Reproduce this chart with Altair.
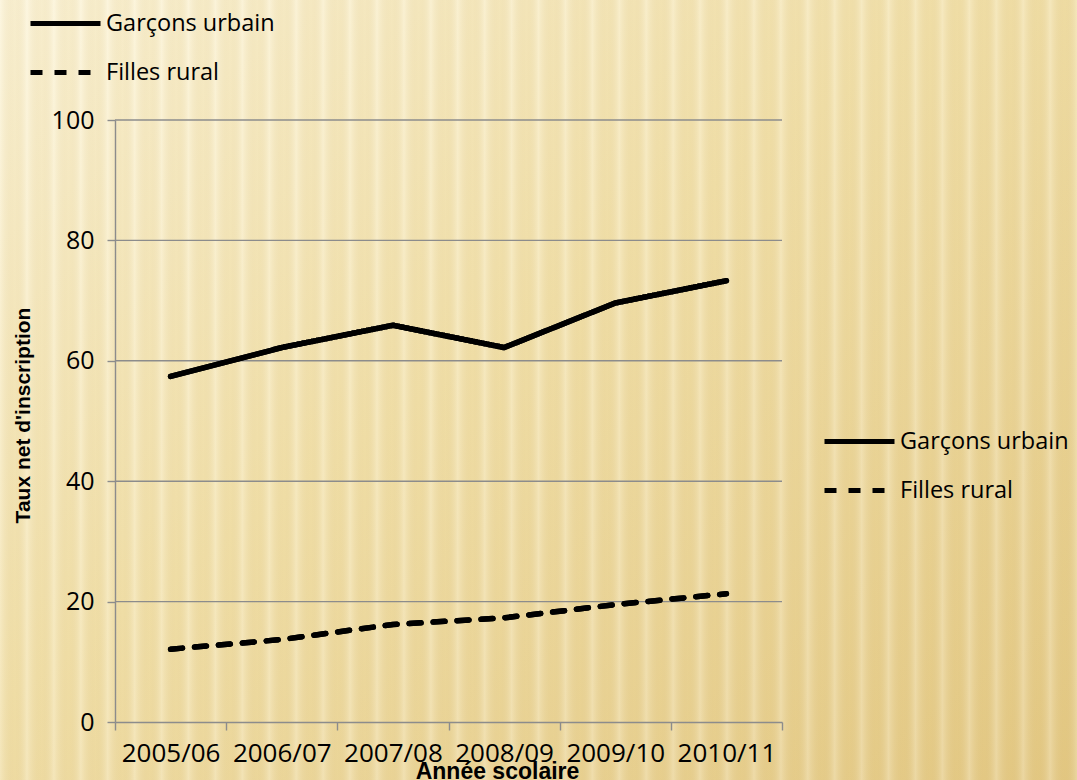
import altair as alt
import pandas as pd

# ---- data ----
years = ["2005/06", "2006/07", "2007/08", "2008/09", "2009/10", "2010/11"]
garcons_urbain = [57.4, 62.2, 65.9, 62.2, 69.6, 73.3]
filles_rural = [12.1, 13.7, 16.2, 17.3, 19.5, 21.3]
series_names = ["Garçons urbain", "Filles rural"]
y_ticks = [0, 20, 40, 60, 80, 100]

rows = []
for name, vals in zip(series_names, [garcons_urbain, filles_rural]):
    for yr, v in zip(years, vals):
        rows.append({"annee": yr, "taux": v, "serie": name})
df = pd.DataFrame(rows)
grid_df = pd.DataFrame({"taux": y_ticks[1:]})

# ---- layout ----
W, H = 667, 602
PL, PT, PR, PB = 115, 120, 295, 58
FONT = "Open Sans"
TFONT = "Liberation Sans"
GRAY = "#8C8C8C"

# ---- background (decoration) ----
base_stops = [
    alt.GradientStop(color="#FCF4D8", offset=0),
    alt.GradientStop(color="#F3E2AC", offset=0.45),
    alt.GradientStop(color="#E5CA85", offset=1),
]
bg = alt.Chart(alt.Data(values=[{}])).mark_rect(
    fill=alt.Gradient(gradient="linear", stops=base_stops, x1=0, y1=0, x2=1, y2=1)
).encode(x=alt.value(-PL), x2=alt.value(W + PR), y=alt.value(-PT), y2=alt.value(H + PB))

n_stripes = 40
stripe_stops = []
for i in range(n_stripes):
    stripe_stops.append(alt.GradientStop(color="rgba(255,255,255,0.22)", offset=i / n_stripes))
    stripe_stops.append(alt.GradientStop(color="rgba(170,130,40,0.05)", offset=(i + 0.55) / n_stripes))
stripe_stops.append(alt.GradientStop(color="rgba(255,255,255,0.22)", offset=1))
stripes = alt.Chart(alt.Data(values=[{}])).mark_rect(
    fill=alt.Gradient(gradient="linear", stops=stripe_stops, x1=0, y1=0, x2=1, y2=0)
).encode(x=alt.value(-PL), x2=alt.value(W + PR), y=alt.value(-PT), y2=alt.value(H + PB))

# ---- encodings ----
y_enc = alt.Y(
    "taux:Q",
    scale=alt.Scale(domain=[0, 100], nice=False),
    axis=alt.Axis(
        values=y_ticks, grid=False, domainColor=GRAY, domainWidth=1.4,
        tickColor=GRAY, tickWidth=1.4, tickSize=8,
        labelFont=FONT, labelFontSize=25, labelColor="black", labelPadding=13,
        title="Taux net d'inscription", titleFont=TFONT, titleFontSize=21,
        titleFontWeight="bold", titleColor="black", titleAngle=270,
        titleAlign="center", titleBaseline="middle", titleX=-92, titleY=295,
        zindex=1,
    ),
)
x_enc = alt.X(
    "annee:N",
    sort=years,
    bandPosition=0.5,
    scale=alt.Scale(type="band", domain=years, paddingInner=0, paddingOuter=0),
    axis=alt.Axis(
        tickBand="extent", grid=False, domainColor=GRAY, domainWidth=1.4,
        tickColor=GRAY, tickWidth=1.4, tickSize=8, labelAngle=0,
        labelFont=FONT, labelFontSize=26, labelColor="black", labelPadding=10,
        title="Année scolaire", titleFont=TFONT, titleFontSize=23,
        titleFontWeight="bold", titleColor="black", titleAlign="center",
        titleBaseline="alphabetic", titleX=382, titleY=56, zindex=1,
    ),
)

grid = alt.Chart(grid_df).mark_rule(color=GRAY, strokeWidth=1.4).encode(y=y_enc)


def legend_at(lx, ly):
    return alt.Legend(
        orient="none", legendX=lx, legendY=ly, title=None, padding=0,
        symbolType="stroke", symbolSize=4900, symbolStrokeWidth=5,
        symbolStrokeColor="black", symbolFillColor="black",
        labelFont=FONT, labelFontSize=23.5, labelColor="black",
        labelOffset=3, rowPadding=-3, labelLimit=400,
    )


def lines(legend):
    return alt.Chart(df).mark_line(
        color="black", strokeWidth=5.5, strokeCap="round", strokeJoin="round"
    ).encode(
        x=x_enc,
        y=y_enc,
        strokeDash=alt.StrokeDash(
            "serie:N",
            scale=alt.Scale(domain=series_names, range=[[1, 0], [12, 12]]),
            legend=legend,
        ),
    )


chart = alt.layer(
    bg, stripes, grid,
    lines(legend_at(-87, -134)),
    lines(legend_at(707, 284)),
).resolve_scale(strokeDash="independent").properties(
    width=W, height=H,
    autosize=alt.AutoSizeParams(type="none"),
    padding={"left": PL, "top": PT, "right": PR, "bottom": PB},
    background="#F0DCA0",
).configure_view(strokeWidth=0)

chart.save("out.html", embed_options={"renderer": "svg", "actions": False})
